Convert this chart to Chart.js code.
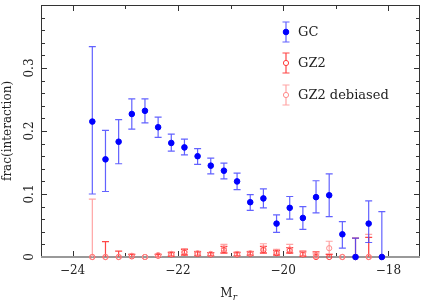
<!DOCTYPE html>
<html>
<head>
<meta charset="utf-8">
<script src="https://cdn.jsdelivr.net/npm/chart.js@4"></script>
<style>
  html, body { margin: 0; padding: 0; background: #fff; }
  #wrap { width: 425px; height: 307px; }
</style>
</head>
<body>
<div id="wrap"><canvas id="chart" width="425" height="307"></canvas></div>
<script>
// magnitude bins (M_r)
var magBins = [-23.625, -23.375, -23.125, -22.875, -22.625, -22.375, -22.125, -21.875,
  -21.625, -21.375, -21.125, -20.875, -20.625, -20.375, -20.125, -19.875,
  -19.625, -19.375, -19.125, -18.875, -18.625, -18.375, -18.125];

// GC
var gcFrac = [0.215, 0.155, 0.183, 0.227, 0.232, 0.206, 0.181, 0.174, 0.160, 0.145, 0.137, 0.120,
  0.087, 0.093, 0.053, 0.078, 0.062, 0.095, 0.098, 0.036, 0, 0.053, 0];
var gcLow = [0.100, 0.104, 0.148, 0.203, 0.213, 0.190, 0.168, 0.162, 0.147, 0.132, 0.124, 0.107,
  0.074, 0.078, 0.039, 0.060, 0.044, 0.070, 0.064, 0.014, 0, 0.023, 0];
var gcHigh = [0.334, 0.201, 0.218, 0.251, 0.251, 0.222, 0.195, 0.187, 0.172, 0.157, 0.149, 0.133,
  0.099, 0.108, 0.067, 0.096, 0.080, 0.121, 0.132, 0.056, 0.030, 0.089, 0.072];

// GZ2
var gz2Frac = [0, 0, 0, 0.001, 0, 0.002, 0.004, 0.007, 0.005, 0.004, 0.011, 0.004,
  0.005, 0.011, 0.006, 0.010, 0.004, 0, 0, 0, 0, 0, 0];
var gz2Low = [0, 0, 0, 0, 0, 0, 0.001, 0.003, 0.002, 0.002, 0.006, 0.002,
  0.003, 0.006, 0.003, 0.006, 0.001, 0, 0, 0, 0, 0, 0];
var gz2High = [0, 0.0245, 0.0093, 0.004, 0, 0.004, 0.007, 0.012, 0.008, 0.007, 0.017, 0.007,
  0.008, 0.017, 0.010, 0.015, 0.008, 0.008, 0.004, 0, 0.030, 0.031, 0];

// GZ2 debiased
var gzdFrac = [0, 0, 0, 0.002, 0, 0.003, 0.005, 0.009, 0.006, 0.005, 0.013, 0.005,
  0.006, 0.013, 0.008, 0.012, 0.005, 0.002, 0.014, 0, 0, 0, 0];
var gzdLow = [0, 0, 0, 0, 0, 0.001, 0.002, 0.004, 0.003, 0.002, 0.007, 0.002,
  0.003, 0.007, 0.004, 0.007, 0.002, 0, 0.005, 0, 0, 0, 0];
var gzdHigh = [0.092, 0, 0, 0.005, 0, 0.005, 0.008, 0.013, 0.009, 0.007, 0.020, 0.008,
  0.009, 0.021, 0.012, 0.020, 0.010, 0.005, 0.025, 0, 0, 0.036, 0];

var xTickLabels = [-24, -22, -20, -18];
var yTickLabels = [0, 0.1, 0.2, 0.3];

var serif = '"DejaVu Serif", "Liberation Serif", serif';

function points(ys) {
    return magBins.map(function (m, i) { return { x: m, y: ys[i] }; });
}

// frame, inward ticks, rotated y labels, x title (under the data)
var frame = {
    id: 'frame',
    beforeDatasetsDraw: function (chart) {
        var ctx = chart.ctx, a = chart.chartArea;
        var xs = chart.scales.x, ys = chart.scales.y;
        ctx.save();
        ctx.strokeStyle = '#333';
        ctx.lineWidth = 1;
        ctx.strokeRect(a.left + 0.5, a.top + 0.5, a.right - a.left - 1, a.bottom - a.top);

        ctx.beginPath();
        for (var v = -24; v <= -18; v++) {
            var px = Math.round(xs.getPixelForValue(v)) + 0.5;
            var len = (v % 2 === 0) ? 6 : 4;
            ctx.moveTo(px, a.bottom); ctx.lineTo(px, a.bottom - len);
            ctx.moveTo(px, a.top); ctx.lineTo(px, a.top + len);
        }
        for (var k = 0; k <= 20; k++) {
            var py = Math.round(ys.getPixelForValue(k * 0.02)) + 0.5;
            var l2 = (k % 5 === 0) ? 6 : 4;
            ctx.moveTo(a.left, py); ctx.lineTo(a.left + l2, py);
            ctx.moveTo(a.right, py); ctx.lineTo(a.right - l2, py);
        }
        ctx.stroke();

        // bottom axis line in grey
        ctx.strokeStyle = '#999';
        ctx.lineWidth = 2;
        ctx.beginPath();
        ctx.moveTo(a.left, a.bottom); ctx.lineTo(a.right, a.bottom);
        ctx.stroke();

        // y tick labels, rotated
        ctx.fillStyle = '#222';
        ctx.font = '12px ' + serif;
        ctx.textAlign = 'center';
        ctx.textBaseline = 'middle';
        yTickLabels.forEach(function (t) {
            ctx.save();
            ctx.translate(30, ys.getPixelForValue(t));
            ctx.rotate(-Math.PI / 2);
            ctx.fillText(String(t), 0, 0);
            ctx.restore();
        });

        // x title M_r
        var cx = (a.left + a.right) / 2 - 2;
        ctx.textAlign = 'left';
        ctx.textBaseline = 'alphabetic';
        ctx.font = '12px ' + serif;
        var mw = ctx.measureText('M').width;
        ctx.fillText('M', cx - mw / 2 - 2, 297);
        ctx.font = 'italic 9px ' + serif;
        ctx.fillText('r', cx + mw / 2 - 2, 300);
        ctx.restore();
    }
};

// error bars, drawn under the markers
var errorBars = {
    id: 'errorBars',
    beforeDatasetsDraw: function (chart) {
        var ctx = chart.ctx;
        var xs = chart.scales.x, ys = chart.scales.y;
        // draw in reverse so GC bars end on top
        for (var d = chart.data.datasets.length - 1; d >= 0; d--) {
            var ds = chart.data.datasets[d];
            ctx.save();
            ctx.strokeStyle = ds.errColor;
            ctx.lineWidth = 1.2;
            for (var i = 0; i < magBins.length; i++) {
                var lo = ds.errLow[i], hi = ds.errHigh[i];
                if (hi <= lo) continue;
                var px = xs.getPixelForValue(magBins[i]);
                var y1 = ys.getPixelForValue(lo), y2 = ys.getPixelForValue(hi);
                ctx.beginPath();
                ctx.moveTo(px, y1); ctx.lineTo(px, y2);
                ctx.moveTo(px - 3.5, y2); ctx.lineTo(px + 3.5, y2);
                if (lo > 0) { ctx.moveTo(px - 3.5, y1); ctx.lineTo(px + 3.5, y1); }
                ctx.stroke();
            }
            ctx.restore();
        }
    }
};

// legend with error-bar markers
var legendBox = {
    id: 'legendBox',
    afterDraw: function (chart) {
        var ctx = chart.ctx;
        var items = [
            { label: 'GC', ds: chart.data.datasets[0], y: 32 },
            { label: 'GZ2', ds: chart.data.datasets[1], y: 63 },
            { label: 'GZ2 debiased', ds: chart.data.datasets[2], y: 95 }
        ];
        var lx = 286;
        ctx.save();
        items.forEach(function (it) {
            ctx.strokeStyle = it.ds.errColor;
            ctx.lineWidth = 1.2;
            ctx.beginPath();
            ctx.moveTo(lx, it.y - 10); ctx.lineTo(lx, it.y + 10);
            ctx.moveTo(lx - 3.5, it.y - 10); ctx.lineTo(lx + 3.5, it.y - 10);
            ctx.moveTo(lx - 3.5, it.y + 10); ctx.lineTo(lx + 3.5, it.y + 10);
            ctx.stroke();
            ctx.beginPath();
            ctx.arc(lx, it.y, it.ds.pointRadius, 0, Math.PI * 2);
            ctx.fillStyle = it.ds.pointBackgroundColor === 'rgba(0,0,0,0)' ? '#fff' : it.ds.pointBackgroundColor;
            ctx.fill();
            ctx.strokeStyle = it.ds.pointBorderColor;
            ctx.lineWidth = it.ds.pointBorderWidth;
            ctx.stroke();
            ctx.fillStyle = '#222';
            ctx.font = '13px ' + serif;
            ctx.textAlign = 'left';
            ctx.textBaseline = 'middle';
            ctx.fillText(it.label, 298, it.y + 1);
        });
        ctx.restore();
    }
};

var chart = new Chart(document.getElementById('chart'), {
    type: 'scatter',
    data: {
        datasets: [
            {
                label: 'GC',
                data: points(gcFrac),
                errLow: gcLow, errHigh: gcHigh,
                errColor: 'rgba(70, 70, 255, 0.85)',
                pointRadius: 2.8,
                pointBackgroundColor: 'rgb(0, 0, 255)',
                pointBorderColor: 'rgb(0, 0, 255)',
                pointBorderWidth: 1,
                clip: false,
                order: 0
            },
            {
                label: 'GZ2',
                data: points(gz2Frac),
                errLow: gz2Low, errHigh: gz2High,
                errColor: 'rgb(255, 70, 70)',
                pointRadius: 2.6,
                pointBackgroundColor: 'rgba(0,0,0,0)',
                pointBorderColor: 'rgb(255, 60, 60)',
                pointBorderWidth: 1,
                clip: false,
                order: 2
            },
            {
                label: 'GZ2 debiased',
                data: points(gzdFrac),
                errLow: gzdLow, errHigh: gzdHigh,
                errColor: 'rgb(255, 165, 165)',
                pointRadius: 2.6,
                pointBackgroundColor: 'rgba(0,0,0,0)',
                pointBorderColor: 'rgb(255, 140, 140)',
                pointBorderWidth: 1,
                clip: false,
                order: 1
            }
        ]
    },
    options: {
        responsive: false,
        animation: false,
        layout: { padding: { top: 1, right: 1, left: 0, bottom: 0 } },
        plugins: { legend: { display: false }, tooltip: { enabled: false } },
        scales: {
            x: {
                type: 'linear',
                min: -24.6,
                max: -17.4,
                grid: { display: false, drawTicks: false },
                border: { display: false },
                afterBuildTicks: function (s) {
                    s.ticks = xTickLabels.map(function (v) { return { value: v }; });
                },
                afterFit: function (s) { s.height = 50; },
                ticks: {
                    padding: 7,
                    color: '#222',
                    font: { family: serif, size: 12 },
                    maxRotation: 0,
                    callback: function (v) { return v < 0 ? '\u2212' + Math.abs(v) : String(v); }
                }
            },
            y: {
                min: 0,
                max: 0.4,
                grid: { display: false, drawTicks: false },
                border: { display: false },
                ticks: { display: false },
                afterFit: function (s) { s.width = 41; },
                title: {
                    display: true,
                    text: 'frac(interaction)',
                    color: '#222',
                    font: { family: serif, size: 12 },
                    padding: { top: 1, bottom: 1 }
                }
            }
        }
    },
    plugins: [frame, errorBars, legendBox]
});
</script>
</body>
</html>
